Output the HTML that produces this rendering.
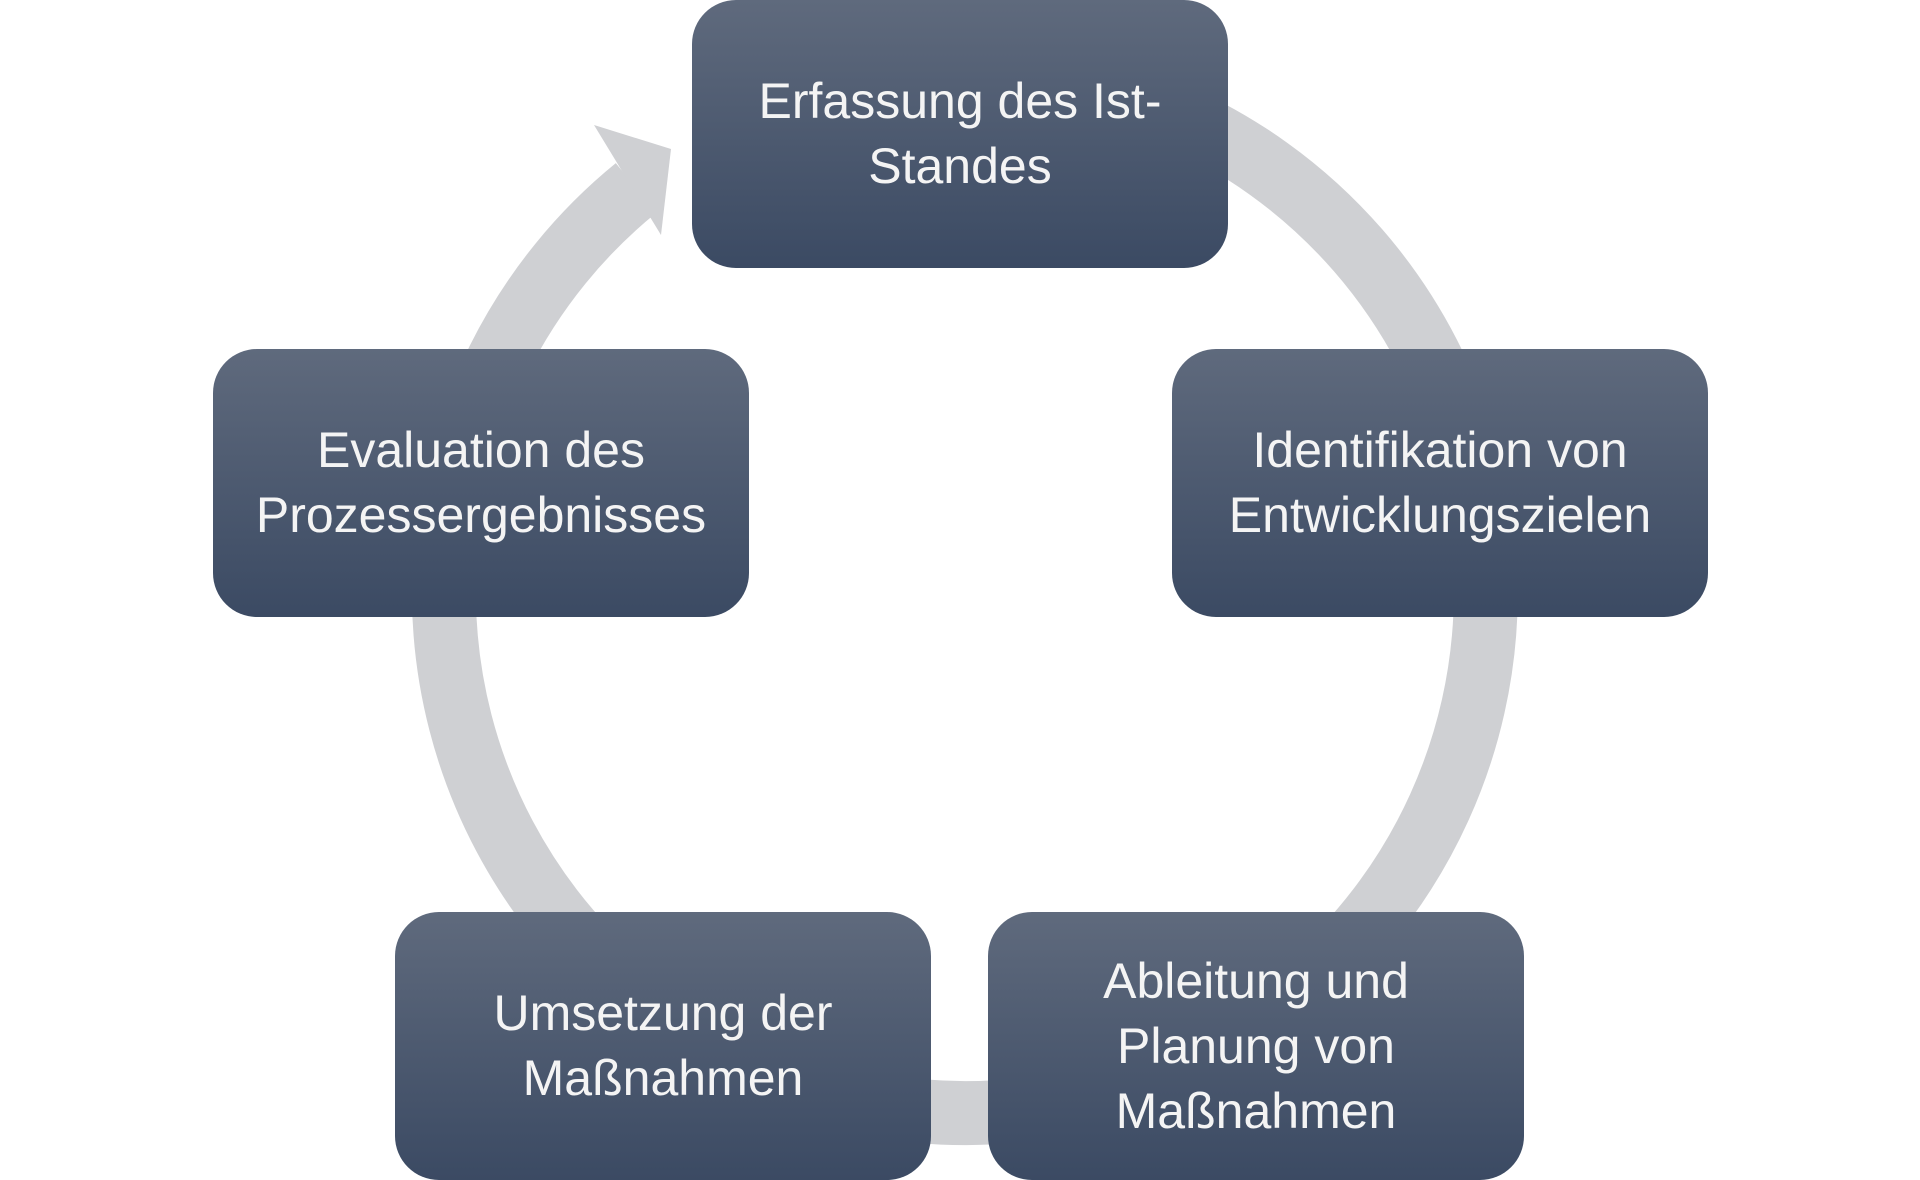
<!DOCTYPE html>
<html><head><meta charset="utf-8"><style>
html,body{margin:0;padding:0;background:#fff;}
body{width:1920px;height:1180px;position:relative;overflow:hidden;font-family:"Liberation Sans",sans-serif;}
.b{position:absolute;width:536px;height:268px;border-radius:44px;background:linear-gradient(#5f6a7d,#3b4a63);color:#f4f4f4;font-size:50px;line-height:65px;display:flex;align-items:center;justify-content:center;text-align:center;box-sizing:border-box;padding:0 20px;}
svg{position:absolute;left:0;top:0;}
</style></head><body>
<svg width="1920" height="1180">
<path d="M1066 81 A521 521 0 1 1 636 188" fill="none" stroke="#cfd0d3" stroke-width="64"/>
<polygon points="594,125 671,149 661,235" fill="#cfd0d3"/>
</svg>
<div class="b" style="left:692px;top:0;">Erfassung des Ist-<br>Standes</div>
<div class="b" style="left:1172px;top:349px;">Identifikation von<br>Entwicklungszielen</div>
<div class="b" style="left:988px;top:912px;">Ableitung und<br>Planung von<br>Maßnahmen</div>
<div class="b" style="left:395px;top:912px;">Umsetzung der<br>Maßnahmen</div>
<div class="b" style="left:213px;top:349px;">Evaluation des<br>Prozessergebnisses</div>
</body></html>
